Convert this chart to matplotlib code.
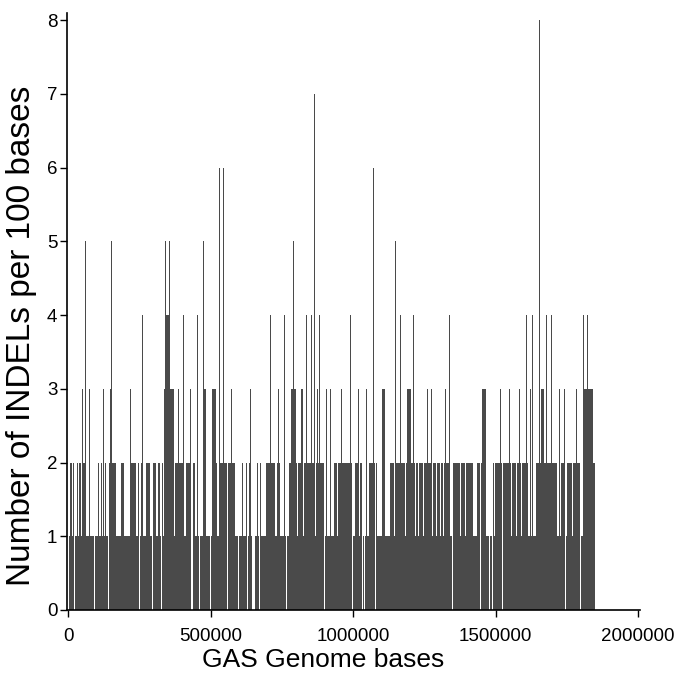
import matplotlib
matplotlib.use('Agg')
import matplotlib.pyplot as plt

# INDEL counts per 100 bases, read off the picture as runs (start_kb, end_kb)
# a run stays at least one bin high for every level up to the given one
level1 = [(4, 21), (25, 90), (94, 139), (143, 217), (221, 248), (252, 293), (297, 325),
          (329, 433), (437, 459), (463, 497), (501, 556), (560, 597), (601, 628), (632, 645),
          (656, 669), (673, 764), (768, 899), (903, 997), (1001, 1031), (1035, 1037),
          (1041, 1078), (1082, 1347), (1351, 1445), (1449, 1478), (1482, 1487), (1491, 1523),
          (1527, 1744), (1748, 1795), (1799, 1849)]

level2 = [(8, 14), (17, 18), (31, 32), (40, 47), (52, 59), (105, 110), (114, 115), (121, 123),
          (130, 133), (143, 168), (187, 198), (221, 239), (244, 248), (255, 260),
          (274, 289), (297, 309), (316, 324), (329, 332), (336, 371), (376, 406), (415, 433),
          (437, 447), (505, 523), (534, 540),
          (540, 556), (560, 587), (609, 611), (624, 626), (636, 638), (663, 668), (673, 678),
          (696, 727), (733, 745), (757, 759), (774, 804), (808, 821),
          (821, 826), (829, 866), (870, 897), (932, 942), (946, 997), (1008, 1021),
          (1025, 1031), (1055, 1077), (1082, 1084),
          (1102, 1113), (1131, 1142), (1146, 1156), (1159, 1183), (1186, 1218), (1221, 1229),
          (1232, 1247), (1250, 1276), (1279, 1290), (1293, 1305), (1308, 1317), (1320, 1341),
          (1351, 1376), (1378, 1392), (1396, 1422), (1436, 1445), (1449, 1464), (1491, 1495),
          (1499, 1523), (1527, 1554), (1558, 1570), (1574, 1589), (1593, 1615), (1620, 1624),
          (1642, 1663), (1656, 1678), (1682, 1715), (1721, 1727), (1730, 1744), (1752, 1767),
          (1771, 1795), (1808, 1849)]

level3 = [(48, 49), (75, 76), (121, 122), (146, 152), (217, 218), (336, 371), (386, 387),
          (427, 428), (477, 478), (482, 483), (505, 519), (571, 572), (637, 639), (736, 737),
          (781, 800), (818, 819), (821, 822), (874, 875), (906, 907), (920, 921), (959, 960),
          (1017, 1019), (1047, 1048), (1102, 1113), (1188, 1205), (1261, 1262), (1275, 1276),
          (1323, 1326), (1452, 1465), (1517, 1518), (1546, 1547), (1582, 1583), (1619, 1620),
          (1660, 1670), (1723, 1724), (1739, 1740), (1782, 1783), (1808, 1843)]

level4 = [(260, 261), (344, 359), (403, 404), (452, 453), (710, 711), (758, 759), (836, 837),
          (851, 852), (880, 881), (989, 990), (1164, 1165), (1209, 1210), (1336, 1337),
          (1605, 1606), (1626, 1627), (1676, 1677), (1696, 1697), (1806, 1807), (1820, 1821)]

level5 = [(58, 59), (150, 151), (339, 340), (353, 354), (474, 475), (788, 789), (1146, 1147)]
level6 = [(530, 531), (542, 543), (1069, 1070)]
level7 = [(862, 863)]
level8 = [(1653, 1654)]

runs = [level1, level2, level3, level4, level5, level6, level7, level8]

xticks = [0, 500000, 1000000, 1500000, 2000000]
yticks = [0, 1, 2, 3, 4, 5, 6, 7, 8]

plt.rcParams['font.family'] = ['Liberation Sans', 'DejaVu Sans']

fig = plt.figure(figsize=(6.75, 6.78), dpi=100)
ax = fig.add_axes([0.0993, 0.1003, 0.849, 0.8805])

bar_col = '#4a4a4a'
min_w = 3600  # about one pixel
for h, lvl in enumerate(runs, start=1):
    for s, e in lvl:
        w = max((e - s) * 1000, min_w)
        ax.bar(s * 1000, h, width=w, align='edge', color=bar_col,
               linewidth=0, antialiased=False)

ax.set_xlim(-3500, 2007000)
ax.set_ylim(0, 8.095)

ax.spines['top'].set_visible(False)
ax.spines['right'].set_visible(False)
ax.spines['left'].set_linewidth(1.2)
ax.spines['bottom'].set_linewidth(1.2)

ax.set_xticks(xticks)
ax.set_xticklabels([str(t) for t in xticks])
ax.set_yticks(yticks)
ax.set_yticklabels([str(t) for t in yticks])
ax.tick_params(axis='both', direction='out', length=5, width=1, labelsize=13.5)
ax.tick_params(axis='x', pad=8)
ax.tick_params(axis='y', pad=2)

ax.set_xlabel('GAS Genome bases', fontsize=19)
ax.xaxis.set_label_coords(0.447, -0.063, transform=ax.transAxes)
ax.xaxis.label.set_verticalalignment('top')
ax.set_ylabel('Number of INDELs per 100 bases', fontsize=24)
ax.yaxis.set_label_coords(-0.08, 0.46, transform=ax.transAxes)
ax.yaxis.label.set_verticalalignment('center')

fig.savefig('out.png', dpi=100)
